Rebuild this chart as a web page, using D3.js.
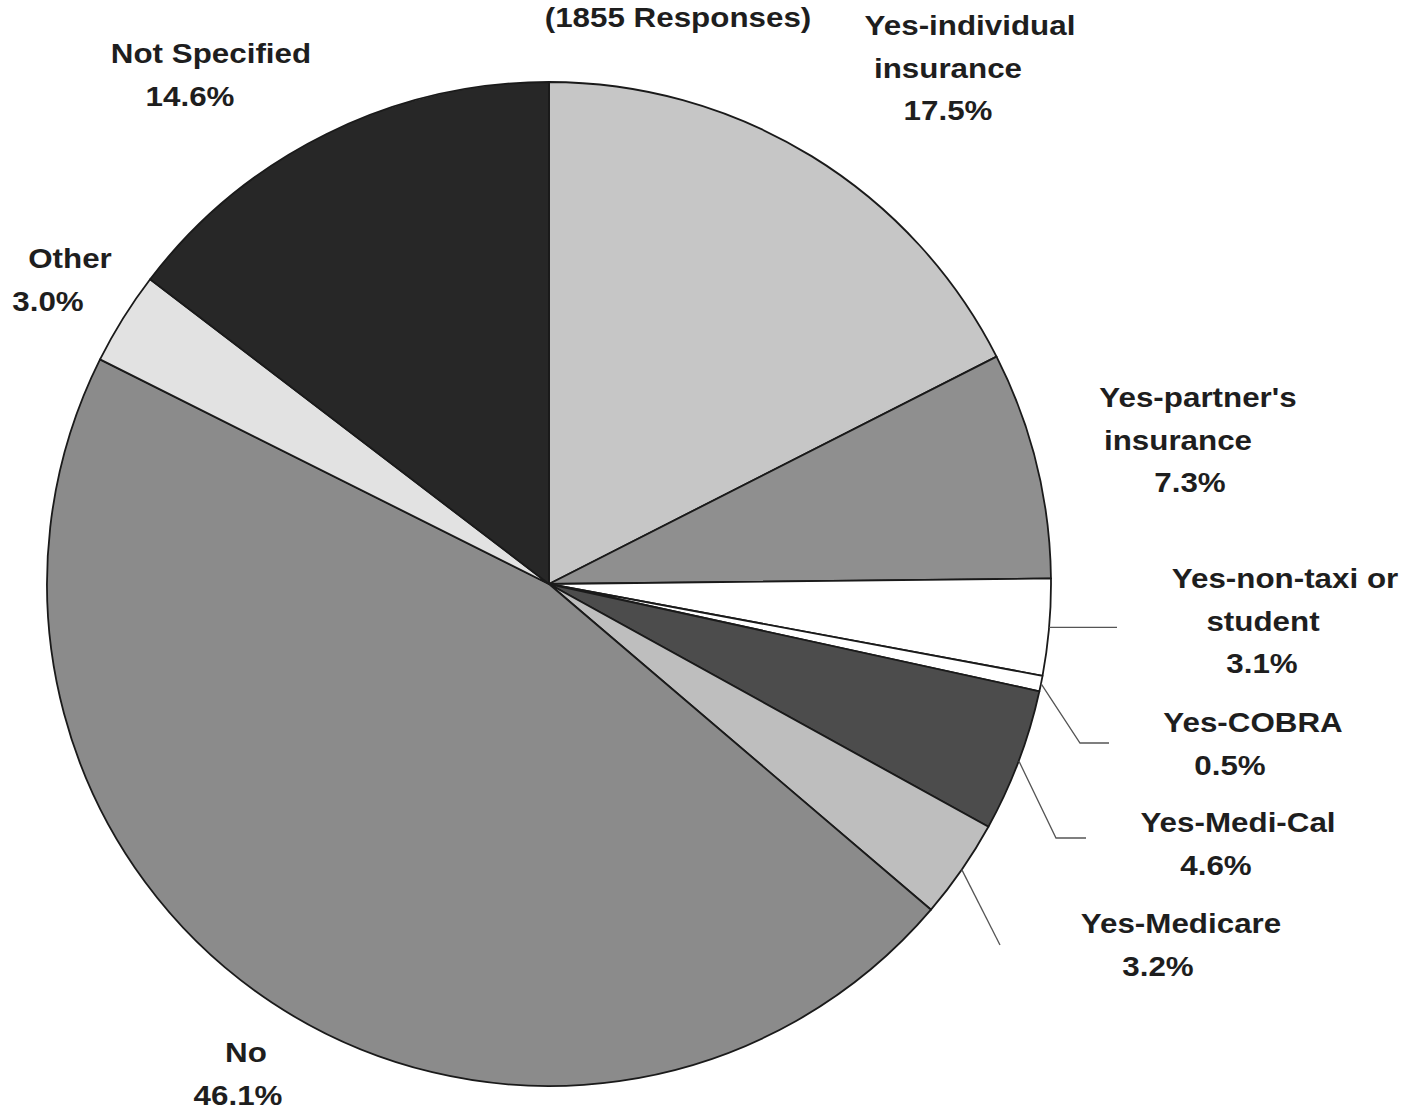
<!DOCTYPE html>
<html>
<head>
<meta charset="utf-8">
<script src="https://cdn.jsdelivr.net/npm/d3@7"></script>
<style>
  html, body { margin: 0; padding: 0; background: #fff; }
  svg { display: block; }
  text { font-family: "Liberation Sans", Arial, sans-serif; font-weight: bold; fill: #1e1e1e; }
</style>
</head>
<body>
<svg id="chart" width="1412" height="1112"></svg>
<script>
// ---- data ----
const categories = ["Yes-individual insurance", "Yes-partner's insurance", "Yes-non-taxi or student",
  "Yes-COBRA", "Yes-Medi-Cal", "Yes-Medicare", "No", "Other", "Not Specified"];
const values = [17.5, 7.3, 3.1, 0.5, 4.6, 3.2, 46.1, 3.0, 14.6];
const labelLines = [
  ["Yes-individual", "insurance", "17.5%"],
  ["Yes-partner's", "insurance", "7.3%"],
  ["Yes-non-taxi or", "student", "3.1%"],
  ["Yes-COBRA", "0.5%"],
  ["Yes-Medi-Cal", "4.6%"],
  ["Yes-Medicare", "3.2%"],
  ["No", "46.1%"],
  ["Other", "3.0%"],
  ["Not Specified", "14.6%"]
];
const titleText = "(1855 Responses)";

// ---- styles / layout ----
const fills = ["#c6c6c6", "#8f8f8f", "#ffffff", "#ffffff", "#4c4c4c", "#bebebe", "#8b8b8b", "#e2e2e2", "#272727"];
const cx = 549, cy = 584, R = 502;
const fontSize = 28, stretch = 1.12, lineGap = 42.5;
// first-line baseline and per-line horizontal centres
const labelLayout = [
  {y: 35,  xs: [970, 948, 948]},
  {y: 407, xs: [1198, 1178, 1190]},
  {y: 588, xs: [1285, 1263, 1262]},
  {y: 732, xs: [1253, 1230]},
  {y: 832, xs: [1238, 1216]},
  {y: 933, xs: [1181, 1158]},
  {y: 1062, xs: [246, 238]},
  {y: 268, xs: [70, 48]},
  {y: 63, xs: [211, 190]}
];
// leader lines: elbow point and horizontal end (null = none)
const leaders = [
  {i: 2, elbow: null, endX: 1117},
  {i: 3, elbow: [1080, 743], endX: 1109},
  {i: 4, elbow: [1056, 838], endX: 1086},
  {i: 5, elbow: [1000, 945], endX: null}
];

const svg = d3.select("#chart");
const g = svg.append("g").attr("transform", `translate(${cx},${cy})`);

const pie = d3.pie().sort(null).value(d => d);
const arcs = pie(values);
const arc = d3.arc().innerRadius(0).outerRadius(R);

g.selectAll("path.slice").data(arcs).enter().append("path")
  .attr("class", "slice")
  .attr("d", arc)
  .attr("fill", (d, i) => fills[i])
  .attr("stroke", "#1a1a1a")
  .attr("stroke-width", 1.8)
  .attr("stroke-linejoin", "round");

// leader lines
leaders.forEach(L => {
  const a = arcs[L.i];
  const mid = (a.startAngle + a.endAngle) / 2;
  const p0 = [cx + R * Math.sin(mid), cy - R * Math.cos(mid)];
  const pts = [p0];
  if (L.elbow) pts.push(L.elbow);
  const last = pts[pts.length - 1];
  if (L.endX != null) pts.push([L.endX, last[1]]);
  svg.append("path")
    .attr("d", d3.line()(pts))
    .attr("fill", "none")
    .attr("stroke", "#555")
    .attr("stroke-width", 1.3);
});

// labels
labelLines.forEach((lines, i) => {
  const lay = labelLayout[i];
  lines.forEach((t, j) => {
    svg.append("text")
      .attr("transform", `translate(${lay.xs[j]},${lay.y + j * lineGap}) scale(${stretch},1)`)
      .attr("text-anchor", "middle")
      .attr("font-size", fontSize)
      .text(t);
  });
});

// title
svg.append("text")
  .attr("transform", `translate(678,27) scale(${stretch},1)`)
  .attr("text-anchor", "middle")
  .attr("font-size", fontSize)
  .text(titleText);
</script>
</body>
</html>
